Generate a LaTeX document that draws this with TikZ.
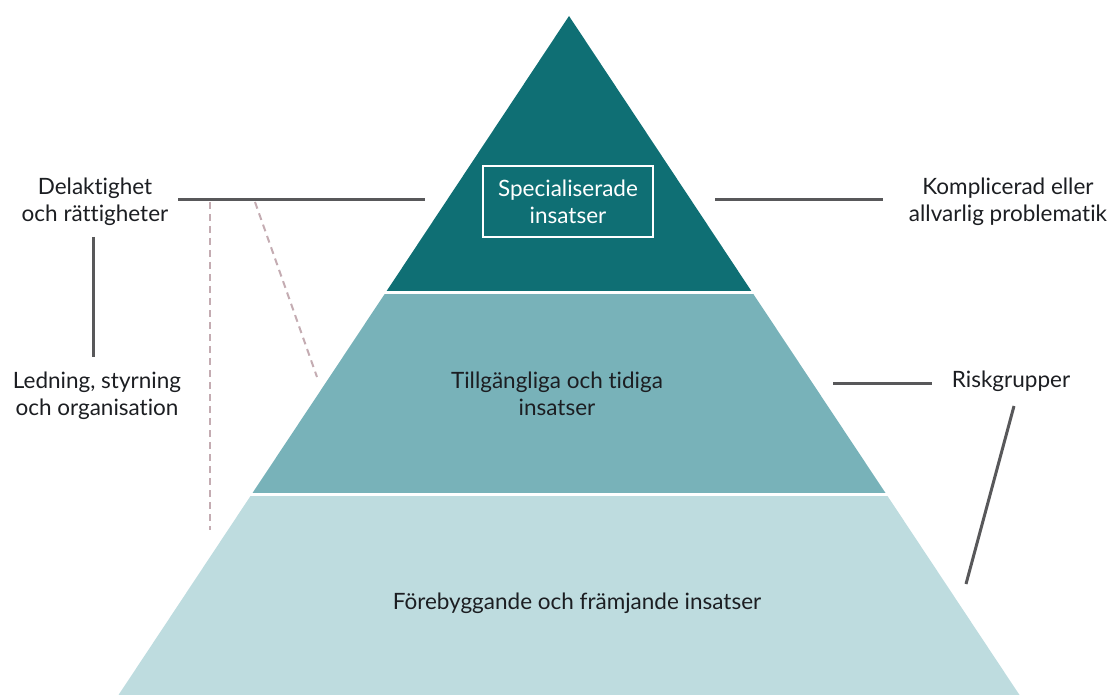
\documentclass[tikz,border=0pt]{standalone}
\usepackage{fontspec}
\setmainfont{Lato}[Ligatures=NoCommon]
\definecolor{tierTop}{RGB}{15,111,116}
\definecolor{tierMid}{RGB}{120,178,185}
\definecolor{tierLow}{RGB}{190,220,223}
\definecolor{ink}{RGB}{28,30,34}
\definecolor{linkgray}{RGB}{88,88,90}
\definecolor{dashpink}{RGB}{196,172,178}
\begin{document}
\begin{tikzpicture}[x=1pt,y=-1pt,
  lbl/.style={font=\fontsize{22.5}{27}\selectfont, align=center, text=ink, inner sep=0pt},
  link/.style={draw=linkgray, line width=3pt},
  hint/.style={draw=dashpink, line width=2pt, dash pattern=on 7pt off 5pt}]
\useasboundingbox (0,0) rectangle (1117,695);

% pyramid tiers
\fill[tierLow] (118.5,695) -- (252.5,493) -- (885.5,493) -- (1019.5,695) -- cycle;
\fill[tierMid] (252.5,493) -- (386,292) -- (752,292) -- (885.5,493) -- cycle;
\fill[tierTop] (386,292) -- (569,16) -- (752,292) -- cycle;
% white gaps between tiers
\draw[white, line width=3pt] (240,293) -- (900,293);
\draw[white, line width=3pt] (240,494) -- (900,494);

% tier labels
\node[lbl, text=white, draw=white, line width=1.2pt, minimum width=170pt, minimum height=71pt] (spec) at (568,201.5) {Specialiserade\\insatser};
\node[lbl] (early) at (557,394) {Tillgängliga och tidiga\\insatser};
\node[lbl] (prev) at (577,603) {Förebyggande och främjande insatser};

% side labels
\node[lbl] (part) at (95,201.5) {Delaktighet\\och rättigheter};
\node[lbl] (lead) at (97,396) {Ledning, styrning\\och organisation};
\node[lbl] (compl) at (1008,201.5) {Komplicerad eller\\allvarlig problematik};
\node[lbl] (risk) at (1011,381) {Riskgrupper};

% connector end points
\coordinate (pL) at (178,200);
\coordinate (pR) at (425,200);
\coordinate (cL) at (715,200);
\coordinate (cR) at (883,200);
\coordinate (vT) at (93,237);
\coordinate (vB) at (93,357);
\coordinate (rL) at (833,383);
\coordinate (rR) at (932,383);
\coordinate (dT) at (1014,406);
\coordinate (dB) at (966,584);
\coordinate (h1T) at (210,202);
\coordinate (h1B) at (210,530);
\coordinate (h2T) at (255,202);
\coordinate (h2B) at (317,377);

% dashed hints
\draw[hint] (h1T) -- (h1B);
\draw[hint] (h2T) -- (h2B);

% solid connectors
\draw[link] (pL) -- (pR);
\draw[link] (cL) -- (cR);
\draw[link] (vT) -- (vB);
\draw[link] (rL) -- (rR);
\draw[link] (dT) -- (dB);
\end{tikzpicture}
\end{document}
